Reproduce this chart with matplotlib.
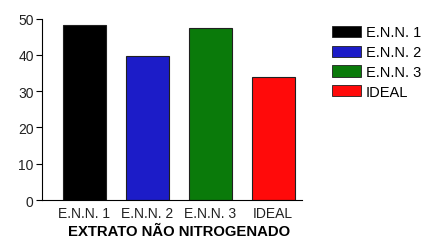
import matplotlib.pyplot as plt
from matplotlib.patches import Patch

categories = ["E.N.N. 1", "E.N.N. 2", "E.N.N. 3", "IDEAL"]
values = [48.2, 39.8, 47.4, 34.0]
colors = ["#000000", "#1c1cc8", "#0a7a0a", "#ff0a0a"]
yticks = [0, 10, 20, 30, 40, 50]

plt.rcParams['font.family'] = ['Liberation Sans', 'DejaVu Sans']

fig = plt.figure(figsize=(4.38, 2.51), dpi=100)
ax = fig.add_axes([0.096, 0.199, 0.594, 0.723])

x = range(len(categories))
ax.bar(x, values, width=0.68, color=colors, edgecolor="#202020", linewidth=0.8)

ax.set_xlim(-0.67, 3.46)
ax.set_ylim(0, 50)
ax.set_yticks(yticks)
ax.set_xticks(list(x))
ax.set_xticklabels(categories, fontsize=10, color="#222222")
ax.tick_params(axis="x", length=0, pad=4)
ax.tick_params(axis="y", length=4, width=0.8, labelsize=10, labelcolor="#222222", pad=2)
ax.set_xlabel("EXTRATO NÃO NITROGENADO", fontsize=10.7, fontweight="bold")
# label sits a bit right of the axis centre in the original
ax.xaxis.set_label_coords(0.527, -0.13)

for s in ["top", "right"]:
    ax.spines[s].set_visible(False)
for s in ["left", "bottom"]:
    ax.spines[s].set_linewidth(0.8)

handles = [Patch(facecolor=c, edgecolor="#202020", linewidth=0.6) for c in colors]
fig.legend(handles, categories, loc="upper left", bbox_to_anchor=(0.745, 0.918),
           frameon=False, fontsize=10.5, handlelength=2.0, handleheight=0.8,
           handletextpad=0.3, labelspacing=0.4, borderaxespad=0)

fig.savefig("out.png", dpi=100)
